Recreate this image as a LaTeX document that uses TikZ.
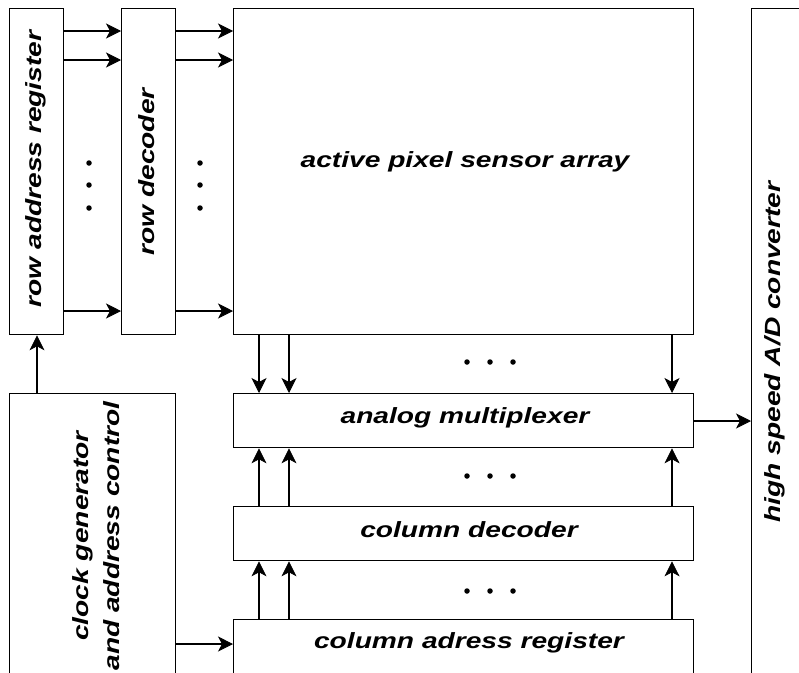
\documentclass[tikz,border=0pt]{standalone}
\usepackage{fontspec}
\setmainfont{Liberation Sans}[FakeStretch=1.28]
\usetikzlibrary{arrows.meta}
\begin{document}
\begin{tikzpicture}[x=1pt,y=-1pt,
  blk/.style={draw, line width=1.3pt, rectangle, inner sep=0pt},
  lbl/.style={font=\fontsize{22}{31}\selectfont\bfseries\itshape, inner sep=0pt, align=center},
  arr/.style={line width=1.3pt, -{Stealth[length=15pt,width=15pt,inset=4pt,line width=0.8pt]}},
  dot/.style={circle, fill, inner sep=0pt, minimum size=5.5pt}]
\useasboundingbox (0,0) rectangle (799,672);
\clip (0,0) rectangle (799,672);

% blocks
\node[blk, anchor=north west, minimum width=54pt, minimum height=326pt] (rar) at (9,8) {};
\node[blk, anchor=north west, minimum width=54pt, minimum height=326pt] (rd) at (121,8) {};
\node[blk, anchor=north west, minimum width=460pt, minimum height=326pt] (aps) at (233,8) {};
\node[blk, anchor=north west, minimum width=80pt, minimum height=700pt] (adc) at (751,8) {};
\node[blk, anchor=north west, minimum width=166pt, minimum height=320pt] (clk) at (9,393) {};
\node[blk, anchor=north west, minimum width=460pt, minimum height=54pt] (mux) at (233,393) {};
\node[blk, anchor=north west, minimum width=460pt, minimum height=54pt] (cd) at (233,506) {};
\node[blk, anchor=north west, minimum width=460pt, minimum height=80pt] (car) at (233,619) {};

% labels
\node[lbl, rotate=90] at (36,169) {row address register};
\node[lbl, rotate=90] at (147,172) {row decoder};
\node[lbl] at (465,162) {active pixel sensor array};
\node[lbl, rotate=90] at (775,352) {high speed A/D converter};
\node[lbl, rotate=90] at (96,536) {clock generator\\and address control};
\node[lbl] at (465,418) {analog multiplexer};
\node[lbl] at (469,530) {column decoder};
\node[lbl] at (469,643) {column adress register};

% row lines
\foreach \yy in {31,60,311}{
  \draw[arr] (rar.east |- 0,\yy) -- (rd.west |- 0,\yy);
  \draw[arr] (rd.east |- 0,\yy) -- (aps.west |- 0,\yy);
}
% column lines
\foreach \xx in {259,289,672}{
  \draw[arr] (aps.south -| \xx,0) -- (mux.north -| \xx,0);
  \draw[arr] (cd.north -| \xx,0) -- (mux.south -| \xx,0);
  \draw[arr] (car.north -| \xx,0) -- (cd.south -| \xx,0);
}
% control lines
\draw[arr] (clk.north -| 37,0) -- (rar.south -| 37,0);
\draw[arr] (clk.east |- 0,644) -- (car.west |- 0,644);
\draw[arr] (mux.east |- 0,421) -- (adc.west |- 0,421);

% ellipsis dots
\foreach \yy in {163,185,208}{
  \node[dot] at (89,\yy) {};
  \node[dot] at (200,\yy) {};
}
\foreach \yy in {362,476,591}{
  \foreach \xx in {467,490,513}{
    \node[dot] at (\xx,\yy) {};
  }
}
\end{tikzpicture}
\end{document}
